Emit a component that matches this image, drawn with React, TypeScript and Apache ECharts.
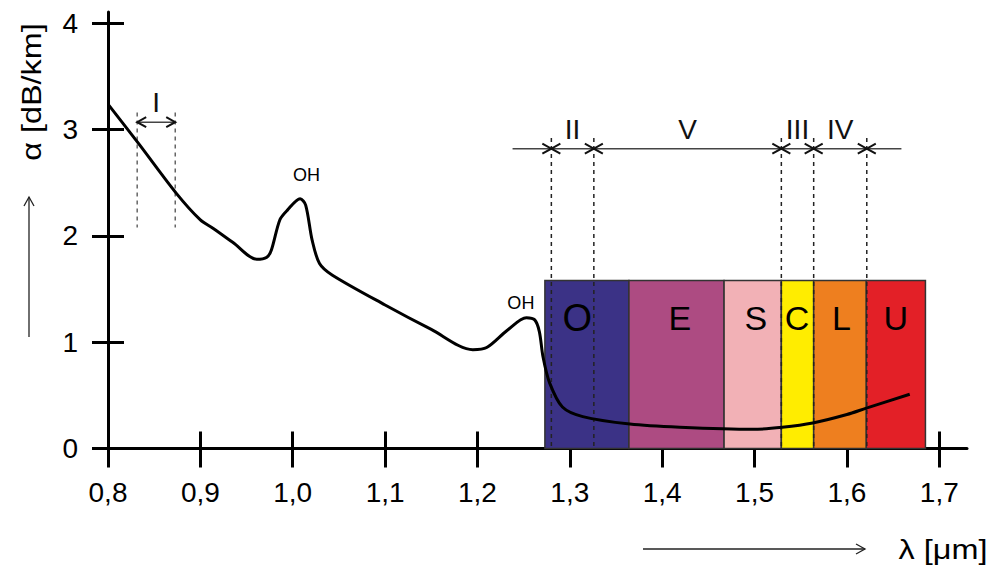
import React, { useEffect, useRef } from 'react';
import * as echarts from 'echarts';

// ---- data ----
const wavelength = [0.8, 0.833, 0.874, 0.9, 0.914, 0.935, 0.961, 0.972, 0.977, 0.986, 0.994, 1.008, 1.014, 1.021, 1.029, 1.043, 1.1, 1.15, 1.195, 1.21, 1.232, 1.253, 1.262, 1.267, 1.271, 1.278, 1.292, 1.314, 1.365, 1.419, 1.498, 1.53, 1.563, 1.6, 1.621, 1.668];
const attenuation = [3.24, 2.87, 2.4, 2.15, 2.07, 1.94, 1.78, 1.8, 1.87, 2.15, 2.24, 2.35, 2.29, 1.96, 1.74, 1.63, 1.35, 1.12, 0.93, 0.95, 1.11, 1.23, 1.21, 1.1, 0.86, 0.62, 0.39, 0.3, 0.23, 0.2, 0.18, 0.2, 0.24, 0.32, 0.38, 0.51];

const xTicks = [0.8, 0.9, 1.0, 1.1, 1.2, 1.3, 1.4, 1.5, 1.6, 1.7];
const yTicks = [0, 1, 2, 3, 4];

const bandNames = ['O', 'E', 'S', 'C', 'L', 'U'];
const bandEdges = [1.273, 1.364, 1.467, 1.529, 1.564, 1.621, 1.685];
const bandLabelX = [1.308, 1.419, 1.5015, 1.546, 1.594, 1.653];
const bandColors = ['#3b3286', '#ad4b82', '#f2b1b6', '#ffed00', '#ee7f1f', '#e32027'];
const bandTop = 1.58;
const bandLabelLevel = 1.23;

const windowNames = ['II', 'V', 'III', 'IV'];
const windowEdges = [1.28, 1.326, 1.529, 1.564, 1.6215];
const windowLine = [1.238, 1.659];
const windowLevel = 2.82;
const windowDashTop = 2.92;
const windowLabelLevel = 3.0;

const firstWindowName = 'I';
const firstWindowEdges = [0.8316, 0.8728];
const firstWindowLevel = 3.07;
const firstWindowDash = [2.08, 3.16];
const firstWindowLabelLevel = 3.25;

const ohLabels = [[1.015, 2.57], [1.247, 1.37]];

const FONT = '"Liberation Sans", Arial, Helvetica, sans-serif';

function chevron(x: number, y: number, dir: number) {
  return {
    type: 'polyline',
    shape: { points: [[x - dir * 9, y - 5], [x, y], [x - dir * 9, y + 5]] },
    style: { stroke: '#111', lineWidth: 2, fill: 'none' },
  };
}

export default function App() {
  const ref = useRef<HTMLDivElement>(null);
  useEffect(() => {
    document.body.style.margin = '0';
    const chart = echarts.init(ref.current!, null, { renderer: 'svg' });

    const grid = { left: 108, top: 12, width: 859, height: 436.5 };
    const xBase = { type: 'value', min: 0.8, max: 1.73, splitLine: { show: false } };
    const yBase = { type: 'value', min: 0, max: 4.106, splitLine: { show: false } };

    const option: any = {
      animation: false,
      grid: [{ ...grid }, { ...grid }],
      xAxis: [
        {
          ...xBase,
          gridIndex: 0,
          axisLine: { show: true, lineStyle: { color: '#000', width: 3 } },
          axisTick: { show: true, customValues: xTicks, length: 19, lineStyle: { color: '#000', width: 3 } },
          axisLabel: {
            customValues: xTicks,
            formatter: (v: number) => v.toFixed(1).replace('.', ','),
            fontSize: 28, color: '#000', fontFamily: FONT, margin: 30,
          },
        },
        {
          ...xBase,
          gridIndex: 1,
          axisLine: { show: false },
          axisTick: { show: true, inside: true, customValues: xTicks, length: 17, lineStyle: { color: '#000', width: 3 } },
          axisLabel: { show: false },
        },
      ],
      yAxis: [
        {
          ...yBase,
          gridIndex: 0,
          axisLine: { show: true, lineStyle: { color: '#000', width: 3 } },
          axisTick: { show: true, customValues: yTicks, length: 16, lineStyle: { color: '#000', width: 3 } },
          axisLabel: { customValues: yTicks, fontSize: 28, color: '#000', fontFamily: FONT, margin: 30 },
        },
        {
          ...yBase,
          gridIndex: 1,
          axisLine: { show: false },
          axisTick: { show: true, inside: true, customValues: yTicks, length: 16, lineStyle: { color: '#000', width: 3 } },
          axisLabel: { show: false },
        },
      ],
      series: [
        {
          type: 'custom',
          name: 'bands',
          xAxisIndex: 0, yAxisIndex: 0,
          z: 1,
          silent: true,
          clip: false,
          data: [[1.3, 0]],
          renderItem: (_p: any, api: any) => {
            const children: any[] = [];
            for (let i = 0; i < bandNames.length; i++) {
              const a = api.coord([bandEdges[i], bandTop]);
              const b = api.coord([bandEdges[i + 1], 0]);
              children.push({
                type: 'rect',
                shape: { x: a[0], y: a[1], width: b[0] - a[0], height: b[1] - a[1] },
                style: { fill: bandColors[i], stroke: '#333', lineWidth: 1.5 },
              });
            }
            for (let i = 0; i < bandNames.length; i++) {
              const c = api.coord([bandLabelX[i], bandLabelLevel]);
              children.push({
                type: 'text',
                x: c[0], y: c[1],
                style: { text: bandNames[i], fontSize: i === 0 ? 38 : 34, fontFamily: FONT, fill: '#000', align: 'center', verticalAlign: 'middle' },
              });
            }
            return { type: 'group', children };
          },
        },
        {
          type: 'custom',
          name: 'windows',
          xAxisIndex: 0, yAxisIndex: 0,
          z: 2,
          silent: true,
          clip: false,
          data: [[1.3, 2]],
          renderItem: (_p: any, api: any) => {
            const children: any[] = [];
            for (const e of windowEdges) {
              const a = api.coord([e, windowDashTop]);
              const b = api.coord([e, 0]);
              children.push({ type: 'line', shape: { x1: a[0], y1: a[1], x2: b[0], y2: b[1] }, style: { stroke: '#222', lineWidth: 1.5, lineDash: [4, 4] } });
            }
            for (const e of firstWindowEdges) {
              const a = api.coord([e, firstWindowDash[1]]);
              const b = api.coord([e, firstWindowDash[0]]);
              children.push({ type: 'line', shape: { x1: a[0], y1: a[1], x2: b[0], y2: b[1] }, style: { stroke: '#666', lineWidth: 1.5, lineDash: [4, 4] } });
            }
            const l0 = api.coord([windowLine[0], windowLevel]);
            const l1 = api.coord([windowLine[1], windowLevel]);
            children.push({ type: 'line', shape: { x1: l0[0], y1: l0[1], x2: l1[0], y2: l1[1] }, style: { stroke: '#444', lineWidth: 1.5 } });
            for (const e of windowEdges) {
              const p = api.coord([e, windowLevel]);
              children.push(chevron(p[0], p[1], 1));
              children.push(chevron(p[0], p[1], -1));
            }
            for (let i = 0; i < windowNames.length; i++) {
              const c = api.coord([(windowEdges[i] + windowEdges[i + 1]) / 2, windowLabelLevel]);
              children.push({ type: 'text', x: c[0], y: c[1], style: { text: windowNames[i], fontSize: 28, fontFamily: FONT, fill: '#111', align: 'center', verticalAlign: 'middle' } });
            }
            const f0 = api.coord([firstWindowEdges[0], firstWindowLevel]);
            const f1 = api.coord([firstWindowEdges[1], firstWindowLevel]);
            children.push({ type: 'line', shape: { x1: f0[0], y1: f0[1], x2: f1[0], y2: f1[1] }, style: { stroke: '#444', lineWidth: 1.5 } });
            children.push(chevron(f0[0], f0[1], -1));
            children.push(chevron(f1[0], f1[1], 1));
            const fc = api.coord([(firstWindowEdges[0] + firstWindowEdges[1]) / 2, firstWindowLabelLevel]);
            children.push({ type: 'text', x: fc[0], y: fc[1], style: { text: firstWindowName, fontSize: 28, fontFamily: FONT, fill: '#111', align: 'center', verticalAlign: 'middle' } });
            for (const o of ohLabels) {
              const c = api.coord(o);
              children.push({ type: 'text', x: c[0], y: c[1], style: { text: 'OH', fontSize: 18, fontFamily: FONT, fill: '#000', align: 'center', verticalAlign: 'middle' } });
            }
            return { type: 'group', children };
          },
        },
        {
          type: 'line',
          name: 'attenuation',
          xAxisIndex: 0, yAxisIndex: 0,
          z: 3,
          data: wavelength.map((w, i) => [w, attenuation[i]]),
          smooth: 0.3,
          showSymbol: false,
          lineStyle: { color: '#000', width: 3 },
        },
      ],
      graphic: [
        {
          type: 'text', x: 31, y: 92, rotation: Math.PI / 2, scaleX: 1.2,
          style: { text: 'α [dB/km]', fontSize: 27, fontFamily: FONT, fill: '#000', align: 'center', verticalAlign: 'middle' },
        },
        { type: 'line', shape: { x1: 29, y1: 337, x2: 29, y2: 197 }, style: { stroke: '#222', lineWidth: 1.3 } },
        { type: 'polyline', shape: { points: [[24, 206], [29, 197], [34, 206]] }, style: { stroke: '#222', lineWidth: 1.3, fill: 'none' } },
        {
          type: 'text', x: 943, y: 549, scaleX: 1.2,
          style: { text: 'λ [μm]', fontSize: 27, fontFamily: FONT, fill: '#000', align: 'center', verticalAlign: 'middle' },
        },
        { type: 'line', shape: { x1: 643, y1: 549, x2: 865, y2: 549 }, style: { stroke: '#222', lineWidth: 1.3 } },
        { type: 'polyline', shape: { points: [[856, 544], [865, 549], [856, 554]] }, style: { stroke: '#222', lineWidth: 1.3, fill: 'none' } },
      ],
    };
    chart.setOption(option);
    return () => chart.dispose();
  }, []);
  return <div ref={ref} style={{ width: 993, height: 568 }} />;
}
